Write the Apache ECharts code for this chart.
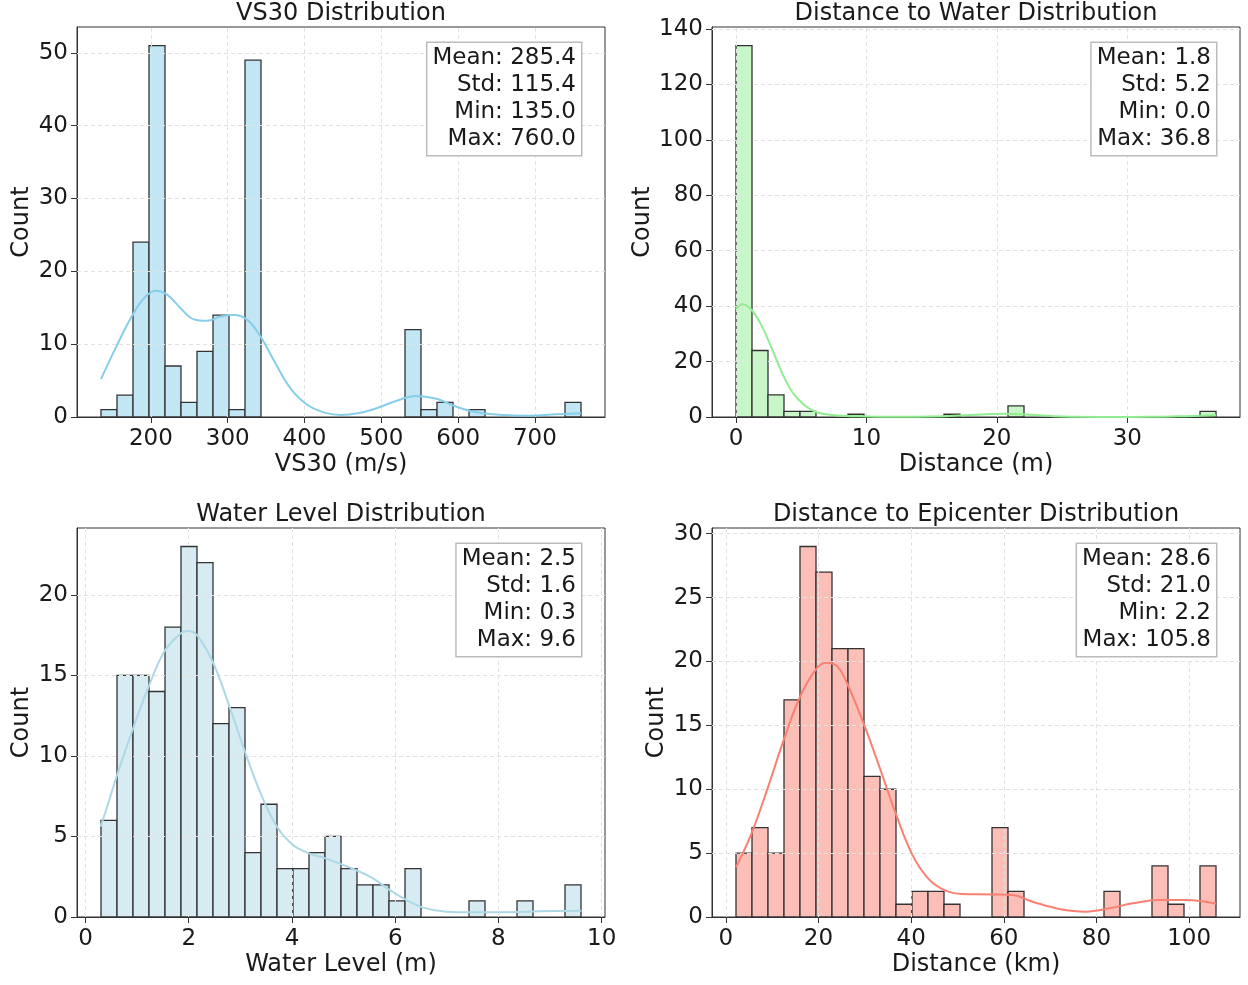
<!DOCTYPE html>
<html>
<head>
<meta charset="utf-8">
<title>Site feature distributions</title>
<script src="https://cdn.jsdelivr.net/npm/echarts@6.0.0/dist/echarts.min.js"></script>
<style>
  html, body { margin: 0; padding: 0; background: #fff; }
  #main { width: 1248px; height: 985px; }
</style>
</head>
<body>
<div id="main"></div>
<script>
// histogram counts, 30 equal bins between min and max of each variable
var vs30Counts = [1, 3, 24, 51, 7, 2, 9, 14, 1, 49, 0, 0, 0, 0, 0, 0, 0, 0, 0, 12, 1, 2, 0, 1, 0, 0, 0, 0, 0, 2];
var waterDistCounts = [134, 24, 8, 2, 2, 0, 0, 1, 0, 0, 0, 0, 0, 1, 0, 0, 0, 4, 0, 0, 0, 0, 0, 0, 0, 0, 0, 0, 0, 2];
var waterLevelCounts = [6, 15, 15, 14, 18, 23, 22, 12, 13, 4, 7, 3, 3, 4, 5, 3, 2, 2, 1, 3, 0, 0, 0, 1, 0, 0, 1, 0, 0, 2];
var epiCounts = [5, 7, 5, 17, 29, 27, 21, 21, 11, 10, 1, 2, 2, 1, 0, 0, 7, 2, 0, 0, 0, 0, 0, 2, 0, 0, 4, 1, 0, 4];

// data ranges (min, max) used for the bin edges
var vs30Range = [135.0, 760.0];
var waterDistRange = [0.0, 36.8];
var waterLevelRange = [0.3, 9.6];
var epiRange = [2.2, 105.8];

// kde curves, in count units
var vs30Kde = [[135, 5.2], [156, 9.9], [176, 14.0], [191, 16.3], [206, 17.35], [221, 16.8], [239, 14.9], [256, 13.4],
  [273, 13.2], [291, 13.8], [308, 14.0], [326, 13.3], [343, 11.0], [361, 7.6], [382, 3.9], [404, 1.65], [426, 0.6],
  [448, 0.27], [469, 0.5], [491, 1.1], [519, 2.2], [545, 2.9], [572, 2.5], [598, 1.4], [624, 0.64], [659, 0.27],
  [693, 0.18], [728, 0.37], [760, 0.5]];
var waterDistKde = [[0, 38.8], [0.5, 40.7], [1.2, 38.6], [2.0, 32.6], [2.8, 24.1], [3.55, 15.7], [4.3, 9.1], [5.1, 4.9],
  [6.1, 1.9], [7.4, 0.7], [9.4, 0.25], [12, 0.05], [16, 0.3], [18.5, 0.8], [20.5, 1.2], [22.5, 0.8], [25, 0.15],
  [28, 0.02], [32, 0.05], [35, 0.4], [36.8, 0.6]];
var waterLevelKde = [[0.29, 5.6], [0.43, 6.95], [0.63, 9.0], [0.92, 11.7], [1.21, 14.2], [1.53, 16.5], [1.84, 17.6],
  [1.98, 17.75], [2.16, 17.5], [2.47, 15.8], [2.78, 13.15], [3.09, 10.26], [3.39, 7.7], [3.71, 5.6], [4.02, 4.47],
  [4.33, 3.95], [4.65, 3.64], [4.96, 3.27], [5.25, 2.9], [5.57, 2.4], [5.89, 1.68], [6.22, 1.05], [6.54, 0.58],
  [6.99, 0.33], [7.51, 0.29], [8.02, 0.29], [8.54, 0.33], [9.06, 0.37], [9.61, 0.39]];
var epiKde = [[2.2, 3.9], [5.4, 6.4], [9.0, 10.05], [12.6, 13.96], [16.1, 17.3], [19.5, 19.4], [21.6, 19.9], [24.1, 19.6],
  [26.4, 18.1], [29.9, 15.0], [33.3, 11.6], [36.8, 7.97], [40.3, 4.84], [43.7, 3.0], [47.2, 2.1], [51, 1.8],
  [57.6, 1.77], [61.9, 1.72], [66.2, 1.2], [72, 0.63], [77.7, 0.42], [82.8, 0.68], [87.8, 1.07], [93.6, 1.33],
  [99.3, 1.33], [105.8, 1.04]];

// tick values
var vs30Ticks = [200, 300, 400, 500, 600, 700];
var waterDistTicks = [0, 10, 20, 30];
var waterLevelTicks = [0, 2, 4, 6, 8, 10];
var epiTicks = [0, 20, 40, 60, 80, 100];
var vs30YTicks = [0, 10, 20, 30, 40, 50];
var waterDistYTicks = [0, 20, 40, 60, 80, 100, 120, 140];
var waterLevelYTicks = [0, 5, 10, 15, 20];
var epiYTicks = [0, 5, 10, 15, 20, 25, 30];

// text
var titles = ['VS30 Distribution', 'Distance to Water Distribution', 'Water Level Distribution', 'Distance to Epicenter Distribution'];
var xNames = ['VS30 (m/s)', 'Distance (m)', 'Water Level (m)', 'Distance (km)'];
var vs30Stats = ['Mean: 285.4', 'Std: 115.4', 'Min: 135.0', 'Max: 760.0'];
var waterDistStats = ['Mean: 1.8', 'Std: 5.2', 'Min: 0.0', 'Max: 36.8'];
var waterLevelStats = ['Mean: 2.5', 'Std: 1.6', 'Min: 0.3', 'Max: 9.6'];
var epiStats = ['Mean: 28.6', 'Std: 21.0', 'Min: 2.2', 'Max: 105.8'];

var FONT = '"DejaVu Sans", "Noto Sans", sans-serif';

var panels = [
  { counts: vs30Counts, range: vs30Range, kde: vs30Kde, xTicks: vs30Ticks, yTicks: vs30YTicks, stats: vs30Stats,
    xMin: 103.75, xMax: 791.25, yMax: 53.55, fill: '#c3e6f5', line: '#87ceeb', yNameOff: 55,
    grid: { left: 77, top: 27, width: 528, height: 390 } },
  { counts: waterDistCounts, range: waterDistRange, kde: waterDistKde, xTicks: waterDistTicks, yTicks: waterDistYTicks, stats: waterDistStats,
    xMin: -1.84, xMax: 38.64, yMax: 140.7, fill: '#c8f6c8', line: '#90ee90', yNameOff: 69,
    grid: { left: 712, top: 27, width: 528, height: 390 } },
  { counts: waterLevelCounts, range: waterLevelRange, kde: waterLevelKde, xTicks: waterLevelTicks, yTicks: waterLevelYTicks, stats: waterLevelStats,
    xMin: -0.165, xMax: 10.065, yMax: 24.15, fill: '#d6ebf2', line: '#add8e6', yNameOff: 55,
    grid: { left: 77, top: 528, width: 528, height: 389 } },
  { counts: epiCounts, range: epiRange, kde: epiKde, xTicks: epiTicks, yTicks: epiYTicks, stats: epiStats,
    xMin: -2.98, xMax: 110.98, yMax: 30.45, fill: '#fcbfb8', line: '#fa8072', yNameOff: 55,
    grid: { left: 712, top: 528, width: 528, height: 389 } }
];

function binData(counts, range) {
  var w = (range[1] - range[0]) / counts.length;
  var out = [];
  counts.forEach(function (c, i) {
    if (c > 0) out.push([range[0] + i * w, range[0] + (i + 1) * w, c]);
  });
  return out;
}

function makeBinRenderer(fill) {
  return function (params, api) {
    var p0 = api.coord([api.value(0), api.value(2)]);
    var p1 = api.coord([api.value(1), 0]);
    return {
      type: 'rect',
      shape: { x: p0[0], y: p0[1], width: p1[0] - p0[0], height: p1[1] - p0[1] },
      style: { fill: fill, stroke: '#333', lineWidth: 1.3 }
    };
  };
}

var grids = [], xAxes = [], yAxes = [], series = [], graphics = [];

panels.forEach(function (p, i) {
  var g = p.grid;
  grids.push({ left: g.left, top: g.top, width: g.width, height: g.height, containLabel: false, outerBoundsMode: 'none',
    show: true, borderColor: '#333', borderWidth: 1, backgroundColor: 'transparent' });

  xAxes.push({
    gridIndex: i, type: 'value', min: p.xMin, max: p.xMax,
    axisLine: { show: true, onZero: false, lineStyle: { color: '#333', width: 1 } },
    axisTick: { show: true, customValues: p.xTicks, length: 6, lineStyle: { color: '#333' } },
    axisLabel: { customValues: p.xTicks, margin: 11, fontSize: 23, color: '#1a1a1a', fontFamily: FONT },
    splitLine: { show: false }
  });
  yAxes.push({
    gridIndex: i, type: 'value', min: 0, max: p.yMax,
    axisLine: { show: true, onZero: false, lineStyle: { color: '#333', width: 1 } },
    axisTick: { show: true, customValues: p.yTicks, length: 6, lineStyle: { color: '#333' } },
    axisLabel: { customValues: p.yTicks, margin: 9, fontSize: 23, color: '#1a1a1a', fontFamily: FONT },
    splitLine: { show: false }
  });

  series.push({
    type: 'custom', xAxisIndex: i, yAxisIndex: i, z: 1,
    renderItem: makeBinRenderer(p.fill),
    encode: { x: [0, 1], y: 2 },
    data: binData(p.counts, p.range)
  });

  // dashed grid lines
  var gridLines = p.xTicks.map(function (v) { return { xAxis: v }; })
    .concat(p.yTicks.filter(function (v) { return v > 0; }).map(function (v) { return { yAxis: v }; }));
  series.push({
    type: 'line', xAxisIndex: i, yAxisIndex: i, z: 2, data: [],
    markLine: {
      silent: true, z: 2, symbol: ['none', 'none'], label: { show: false },
      lineStyle: { color: '#e2e2e2', type: [4, 3], width: 1 },
      emphasis: { disabled: true },
      data: gridLines
    }
  });

  series.push({
    type: 'line', xAxisIndex: i, yAxisIndex: i, z: 3,
    data: p.kde, smooth: 0.4, showSymbol: false,
    lineStyle: { color: p.line, width: 2 }
  });

  var cx = g.left + g.width / 2;
  graphics.push({ type: 'text', x: cx, y: g.top - 13.5,
    style: { text: titles[i], align: 'center', verticalAlign: 'middle', font: '24px ' + FONT, fill: '#1a1a1a' } });
  graphics.push({ type: 'text', x: cx, y: g.top + g.height + 48,
    style: { text: xNames[i], align: 'center', verticalAlign: 'middle', font: '24px ' + FONT, fill: '#1a1a1a' } });
  graphics.push({ type: 'text', x: g.left - p.yNameOff, y: g.top + g.height / 2, rotation: Math.PI / 2,
    style: { text: 'Count', align: 'center', verticalAlign: 'middle', font: '24px ' + FONT, fill: '#1a1a1a' } });
  graphics.push({ type: 'text', x: g.left + g.width - 24, y: g.top + 16, z: 10,
    style: { text: p.stats.join('\n'), align: 'right', verticalAlign: 'top', font: '23px ' + FONT, fill: '#1a1a1a',
      lineHeight: 27, backgroundColor: '#fff', borderColor: '#bbb', borderWidth: 1.5, padding: [2, 5, 2, 5] } });
});

var chart = echarts.init(document.getElementById('main'), null, { renderer: 'canvas' });
chart.setOption({
  animation: false,
  backgroundColor: '#fff',
  grid: grids,
  xAxis: xAxes,
  yAxis: yAxes,
  series: series,
  graphic: graphics
});
</script>
</body>
</html>
